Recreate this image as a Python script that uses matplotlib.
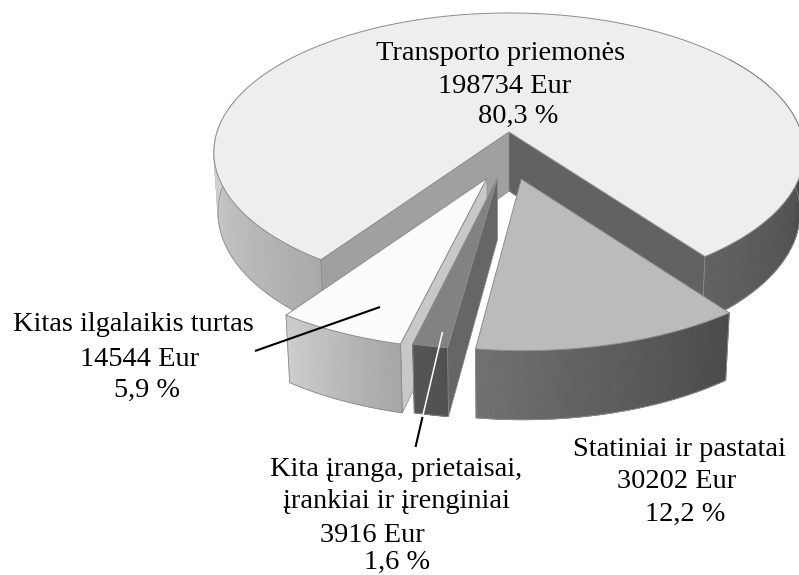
"""Exploded 3D pie of fixed assets, projected by hand onto a plain matplotlib axes."""

import matplotlib

matplotlib.use("Agg")
import matplotlib.pyplot as plt
import numpy as np
from matplotlib.patches import Polygon

plt.rcParams["font.family"] = ["Liberation Serif", "DejaVu Serif"]

categories = ["Statiniai ir pastatai", "Kita įranga", "Kitas ilgalaikis turtas", "Transporto priemonės"]
values = [30202, 3916, 14544, 198734]
percents = ["12,2 %", "1,6 %", "5,9 %", "80,3 %"]

# projection of the pie, in pixels
CX, CY = 509, 132
RX, RY = 292, 136.4
PERSP, PERSP_Z = 0.146, 0.014
HEIGHT = 60
START = 36.3  # degrees from the front, towards the right

# explode offset and depth squash per slice in unit-disc coordinates
off_u = [0.04, -0.038, -0.072, 0.0]
off_v = [0.329, 0.323, 0.323, 0.0]
squash = [0.97, 0.97, 0.97, 1.0]

EDGE = "#8c8c8c"


class Layer:
    """Hands out rising zorders so patches and lines paint in call order."""

    z = 1

    @classmethod
    def next(cls):
        cls.z += 1
        return cls.z


def project(u, v, z=0.0):
    w = 1.0 / (1.0 - PERSP * v + PERSP_Z * z)
    return CX + RX * u * w, CY + (RY * v + HEIGHT * z) * w


def rim(theta_deg, i, z=0.0):
    t = np.radians(theta_deg)
    u = np.sin(t) + off_u[i]
    v = squash[i] * np.cos(t) + off_v[i]
    return np.column_stack(project(u, v, z))


def gray(level):
    return (level / 255.0, level / 255.0, level / 255.0)


def top_face(ax, t0, t1, i, color):
    arc = rim(np.linspace(t0, t1, 200), i)
    apex = np.array([project(off_u[i], off_v[i])])
    ax.add_patch(Polygon(np.vstack([apex, arc]), closed=True, fc=color, ec=EDGE, lw=0.7, zorder=Layer.next()))


def radial_wall(ax, theta, i, color):
    up = rim(np.array([theta]), i)[0]
    low = rim(np.array([theta]), i, 1)[0]
    pts = [project(off_u[i], off_v[i]), up, low, project(off_u[i], off_v[i], 1)]
    ax.add_patch(Polygon(pts, closed=True, fc=color, ec=EDGE, lw=0.5, zorder=Layer.next()))


def outer_wall(ax, t0, t1, i, c0, c1):
    thetas = np.linspace(t0, t1, 90)
    levels = np.linspace(c0, c1, 89)
    up = rim(thetas, i)
    low = rim(thetas, i, 1)
    for k, lev in enumerate(levels):
        quad = [up[k], up[k + 1], low[k + 1], low[k]]
        ax.add_patch(Polygon(quad, closed=True, fc=gray(lev), ec=gray(lev), lw=0.6, zorder=Layer.next()))
    z = Layer.next()
    ax.plot(low[:, 0], low[:, 1], color=EDGE, lw=0.6, zorder=z)
    ax.plot([up[0, 0], low[0, 0]], [up[0, 1], low[0, 1]], color=EDGE, lw=0.6, zorder=z)
    ax.plot([up[-1, 0], low[-1, 0]], [up[-1, 1], low[-1, 1]], color=EDGE, lw=0.6, zorder=z)


fig = plt.figure(figsize=(7.99, 5.75), dpi=100)
ax = fig.add_axes([0, 0, 1, 1])
ax.set_xlim(0, 799)
ax.set_ylim(575, 0)
ax.axis("off")

sweep = 360.0 * np.array(values) / np.sum(values)
edges = START - np.concatenate([[0], np.cumsum(sweep)])

# main slice: walls first, the top goes over them
outer_wall(ax, edges[3], -125, 3, 170, 235)
outer_wall(ax, edges[0], 125, 3, 98, 50)
radial_wall(ax, edges[3], 3, "#a0a0a0")
radial_wall(ax, edges[0], 3, "#626262")
top_face(ax, edges[3], edges[4], 3, "#eeeeee")

# Kitas ilgalaikis turtas
radial_wall(ax, edges[2], 2, "#c8c8c8")
outer_wall(ax, edges[2], edges[3], 2, 165, 205)
top_face(ax, edges[2], edges[3], 2, "#fcfcfc")

# Kita iranga
radial_wall(ax, edges[1], 1, "#666666")
outer_wall(ax, edges[1], edges[2], 1, 80, 85)
top_face(ax, edges[1], edges[2], 1, "#828282")

# Statiniai ir pastatai
outer_wall(ax, edges[0], edges[1], 0, 74, 112)
top_face(ax, edges[0], edges[1], 0, "#bbbbbb")

# leader lines
z_top = Layer.next()
ax.plot([255, 380], [351, 307], color="black", lw=1.5, solid_capstyle="butt", zorder=z_top)
ax.plot([442.5, 422.5], [332, 417], color="white", lw=1.1, solid_capstyle="butt", zorder=z_top)
ax.plot([422.5, 415.5], [417, 447], color="black", lw=1.5, solid_capstyle="butt", zorder=z_top)

# x is the line centre, y the baseline
labels = [
    (501, 60, "Transporto priemonės"),
    (505, 93, f"{values[3]} Eur"),
    (518, 123, percents[3]),
    (133, 331, categories[2]),
    (140, 366, f"{values[2]} Eur"),
    (147, 397, percents[2]),
    (679, 456, categories[0]),
    (677, 488, f"{values[0]} Eur"),
    (685, 521, percents[0]),
    (396, 476, "Kita įranga, prietaisai,"),
    (396, 508, "įrankiai ir įrenginiai"),
    (372, 542, f"{values[1]} Eur"),
    (397, 569, percents[1]),
]
for x, y, s in labels:
    ax.text(x, y, s, ha="center", va="baseline", fontsize=20.4, color="black", zorder=z_top)

fig.savefig("out.png", dpi=100)
